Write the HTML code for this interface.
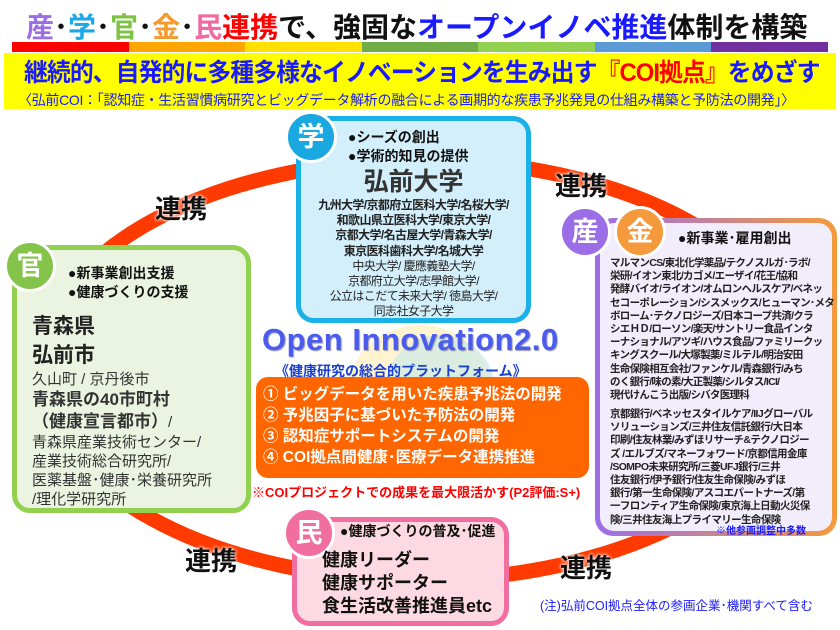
<!DOCTYPE html>
<html><head><meta charset="utf-8">
<style>
*{margin:0;padding:0;box-sizing:border-box}
body{width:840px;height:630px;background:#fff;position:relative;overflow:hidden;font-family:"Liberation Sans","Noto Sans CJK JP",sans-serif;color:#111}
.a{position:absolute;white-space:nowrap}
.b{font-weight:bold}
.circ{position:absolute;width:52px;height:52px;border-radius:50%;border:3px solid #fff;color:#fff;font-weight:bold;font-size:27px;line-height:46px;text-align:center}
.box{position:absolute;border-radius:18px}
.rk{font-size:26px;font-weight:bold;text-shadow:0 0 3px #fff,0 0 3px #fff}
</style></head><body>
<div class="a b" style="left:26px;top:6px;font-size:28px;letter-spacing:0px"><span style="color:#9b6ee8">産</span>･<span style="color:#1aa8e8">学</span>･<span style="color:#7dc242">官</span>･<span style="color:#f59a2c">金</span>･<span style="color:#f06aa0">民</span><span style="color:#f00">連携</span>で、強固な<span style="color:#1a1aff">オープンイノベ推進</span>体制を構築</div>
<div class="a" style="left:12px;top:42px;width:816px;height:10px;display:flex">
<div style="flex:1;background:#f00"></div><div style="flex:1;background:#ffa500"></div><div style="flex:1;background:#ffe000"></div><div style="flex:1;background:#70ad47"></div><div style="flex:1;background:#92d050"></div><div style="flex:1;background:#5b9bd5"></div><div style="flex:1;background:#7030a0"></div></div>
<div class="a" style="left:4px;top:53px;width:832px;height:56px;background:#ffff00"></div>
<div class="a b" style="left:24px;top:57px;font-size:25px;line-height:32px;color:#1a1aff;letter-spacing:-1px;transform:scaleX(0.955);transform-origin:0 0">継続的、自発的に多種多様なイノベーションを生み出す<span style="color:#f00">『COI拠点』</span>をめざす</div>
<div class="a" style="left:18px;top:90px;font-size:14px;color:#1a1aff;letter-spacing:-0.3px">〈弘前COI：「認知症・生活習慣病研究とビッグデータ解析の融合による画期的な疾患予兆発見の仕組み構築と予防法の開発」〉</div>

<svg class="a" style="left:0;top:0" width="840" height="630"><ellipse cx="420" cy="370" rx="380" ry="210" fill="none" stroke="#ff3a00" stroke-width="15"/>
<circle cx="420" cy="400" r="75" fill="#ffe9a0" opacity="0.5"/><circle cx="440" cy="390" r="55" fill="#b8e4f4" opacity="0.5"/></svg>

<div class="a rk" style="left:155px;top:189px">連携</div>
<div class="a rk" style="left:555px;top:166px">連携</div>
<div class="a rk" style="left:185px;top:541px">連携</div>
<div class="a rk" style="left:560px;top:548px">連携</div>

<!-- 学 -->
<div class="box" style="left:296px;top:116px;width:235px;height:207px;background:#d3effb;border:5px solid #1ab0e8"></div>
<div class="circ" style="left:285px;top:111px;background:#1aa8e0">学</div>
<div class="a b" style="left:348px;top:128px;font-size:14px;line-height:19px">●シーズの創出<br>●学術的知見の提供</div>
<div class="a b" style="left:296px;top:167px;width:235px;text-align:center;font-size:25px;line-height:30px;color:#333">弘前大学</div>
<div class="a" style="left:296px;top:198px;width:235px;text-align:center;font-size:12px;line-height:15.2px;color:#222;letter-spacing:-0.6px"><b>九州大学/京都府立医科大学/名桜大学/<br>和歌山県立医科大学/東京大学/<br>京都大学/名古屋大学/青森大学/<br>東京医科歯科大学/名城大学</b><br>中央大学/ 慶應義塾大学/<br>京都府立大学/志學館大学/<br>公立はこだて未来大学/ 徳島大学/<br>同志社女子大学</div>

<!-- 官 -->
<div class="box" style="left:12px;top:245px;width:239px;height:268px;background:#ebf4e1;border:5px solid #92d050"></div>
<div class="circ" style="left:4px;top:240px;background:#84c44a">官</div>
<div class="a b" style="left:68px;top:264px;font-size:14px;line-height:19px">●新事業創出支援<br>●健康づくりの支援</div>
<div class="a" style="left:32px;top:312px;font-size:15px;line-height:19px;color:#333"><b style="font-size:21px;line-height:29px;color:#222">青森県<br>弘前市</b><br>久山町 / 京丹後市<br><b style="font-size:17px;line-height:22px">青森県の40市町村<br>（健康宣言都市）</b>/<br>青森県産業技術センター/<br>産業技術総合研究所/<br>医薬基盤･健康･栄養研究所<br>/理化学研究所</div>

<!-- 産金 -->
<div class="box" style="left:595px;top:218px;width:242px;height:318px;background:linear-gradient(90deg,#9b6ee8,#f59a3c);"></div>
<div class="box" style="left:600px;top:223px;width:232px;height:308px;background:#f1edfb;border-radius:14px"></div>
<div class="circ" style="left:559px;top:206px;background:#9b6ee8">産</div>
<div class="circ" style="left:614px;top:206px;background:#f59a3c">金</div>
<div class="a b" style="left:678px;top:228px;font-size:14px">●新事業･雇用創出</div>
<div class="a b" style="left:610px;top:257px;font-size:10.5px;line-height:13.2px;letter-spacing:-0.7px;color:#222">マルマンCS/東北化学薬品/テクノスルガ･ラボ/<br>栄研/イオン東北/カゴメ/エーザイ/花王/協和<br>発酵バイオ/ライオン/オムロンヘルスケア/ベネッ<br>セコーポレーション/シスメックス/ヒューマン･メタ<br>ボローム･テクノロジーズ/日本コープ共済/クラ<br>シエＨＤ/ローソン/楽天/サントリー食品インタ<br>ーナショナル/アツギ/ハウス食品/ファミリークッ<br>キングスクール/大塚製薬/ミルテル/明治安田<br>生命保険相互会社/ファンケル/青森銀行/みち<br>のく銀行/味の素/大正製薬/シルタス/ICI/<br>現代けんこう出版/シバタ医理科</div>
<div class="a b" style="left:610px;top:408px;font-size:10.5px;line-height:13.2px;letter-spacing:-0.6px;color:#222">京都銀行/ベネッセスタイルケア/IIJグローバル<br>ソリューションズ/三井住友信託銀行/大日本<br>印刷/住友林業/みずほリサーチ&amp;テクノロジー<br>ズ /エルブズ/マネーフォワード/京都信用金庫<br>/SOMPO未来研究所/三菱UFJ銀行/三井<br>住友銀行/伊予銀行/住友生命保険/みずほ<br>銀行/第一生命保険/アスコエパートナーズ/第<br>一フロンティア生命保険/東京海上日動火災保<br>険/三井住友海上プライマリー生命保険</div>
<div class="a b" style="left:716px;top:522px;font-size:10px;color:#1a1aff">※他参画調整中多数</div>

<!-- center -->
<div class="a b" style="left:262px;top:322px;font-size:31px;color:#4a5cf0;letter-spacing:0.5px;font-family:'Liberation Sans',sans-serif;text-shadow:1px 1px 1px #99a">Open Innovation2.0</div>
<div class="a b" style="left:275px;top:361px;font-size:14px;color:#1a40d0">《健康研究の総合的プラットフォーム》</div>
<div class="box" style="left:256px;top:377px;width:333px;height:101px;background:#ff6600;border-radius:12px"></div>
<div class="a b" style="left:263px;top:384px;font-size:15.5px;line-height:21px;color:#fff">① ビッグデータを用いた疾患予兆法の開発<br>② 予兆因子に基づいた予防法の開発<br>③ 認知症サポートシステムの開発<br>④ COI拠点間健康･医療データ連携推進</div>
<div class="a b" style="left:252px;top:482px;font-size:13px;color:#f00">※COIプロジェクトでの成果を最大限活かす(P2評価:S+)</div>

<!-- 民 -->
<div class="box" style="left:292px;top:517px;width:217px;height:109px;background:#fdd9e4;border:5px solid #f06ea0"></div>
<div class="circ" style="left:283px;top:507px;background:#f06ea0">民</div>
<div class="a b" style="left:340px;top:521px;font-size:14px">●健康づくりの普及･促進</div>
<div class="a b" style="left:322px;top:549px;font-size:18px;line-height:23px">健康リーダー<br>健康サポーター<br>食生活改善推進員etc</div>

<div class="a" style="left:540px;top:595px;font-size:12.5px;color:#1a1aff">(注)弘前COI拠点全体の参画企業･機関すべて含む</div>
</body></html>
